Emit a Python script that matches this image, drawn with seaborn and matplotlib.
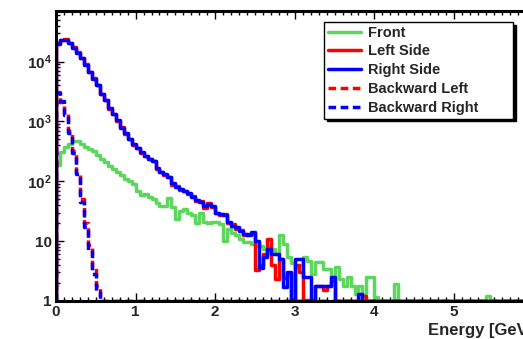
import numpy as np
import matplotlib
matplotlib.use("Agg")
import matplotlib.pyplot as plt
import seaborn as sns
from matplotlib.ticker import FixedLocator, FixedFormatter, MultipleLocator, LogLocator, NullFormatter

# Energy histograms, 0.05 GeV bins from 0 to 6 GeV
bin_width = 0.05
n_bins = 120

front = [190, 305, 370, 415, 465, 465, 415, 370, 340, 315,
         280, 233, 207, 178, 158, 141, 125, 108, 100, 89,
         68, 58, 61, 54, 50, 43, 38, 38, 52, 37,
         23, 32, 34, 29, 27, 20, 30, 21, 20, 21,
         21, 19, 10, 16, 13.6, 12.6, 10.8, 9.6, 9.6, 9,
         8.3, 8.3, 7.4, 7.9, 7.4, 6, 12.6, 9, 5.4, 4.3,
         3.7, 4, 5.4, 4.6, 2.8, 4.5, 4.5, 3.4, 3.4, 2.5,
         3.7, 2.3, 1.8, 2.5, 1.8, 1.3, 1.8, 1.3, 2.5, 2.5,
         1.15, 0, 0, 0, 0, 1.9, 0, 0, 0, 0,
         0, 0, 0, 0, 0, 0, 0, 0, 0, 0,
         0, 0, 0, 0, 0, 0, 0, 0, 1.2]

left_side = [20500, 23000, 23600, 20400, 17300, 14300, 11400, 9100, 6700, 5300,
             4100, 2850, 2300, 1620, 1340, 1020, 810, 615, 510, 405,
             365, 300, 265, 235, 220, 160, 145, 128, 120, 88,
             82, 72, 70, 61, 56, 46, 47, 36, 43, 37,
             30, 27, 28, 20, 19, 16, 15.5, 12.5, 13, 13,
             3.3, 4, 6, 11, 4, 2.3, 5, 2.4, 2.8, 1.05,
             4, 3, 1.05, 1.05, 0, 1.8, 1.8, 1.5, 1.8, 2.2,
             0, 0, 0, 0, 0, 0, 0, 1.2]

right_side = [20000, 23300, 23300, 20700, 17100, 14100, 11600, 8900, 6800, 5200,
              4000, 2900, 2240, 1650, 1310, 1040, 790, 630, 500, 415,
              355, 305, 260, 240, 215, 164, 141, 131, 117, 93,
              79, 74, 68, 63, 54, 48, 45, 38, 41, 38,
              29, 28, 27, 21, 18, 17, 15, 13, 12.6, 14,
              10, 3.5, 5.5, 7.4, 6, 6, 5, 1.7, 3, 1.05,
              5, 5, 2.5, 2.5, 1.05, 1.8, 1.8, 1.8, 1.8, 2.5,
              0, 0, 0, 0, 0, 0, 1.3]

backward_left = [3100, 2150, 1350, 680, 320, 140, 50, 20, 8.5, 3.5, 1.8]
backward_right = [3000, 2200, 1300, 650, 300, 130, 45, 17, 7, 2.8, 1.4]

series_names = ["Front", "Left Side", "Right Side", "Backward Left", "Backward Right"]
series_values = [front, left_side, right_side, backward_left, backward_right]
series_colors = ["#5cd65c", "#ff0000", "#0000ff", "#ff0000", "#0000ff"]
series_dashed = [False, False, False, True, True]

x_ticks = [0, 1, 2, 3, 4, 5]
y_ticks = [1, 10, 100, 1000, 10000]
y_tick_labels = ["1", "10", r"$\mathbf{10^{2}}$", r"$\mathbf{10^{3}}$", r"$\mathbf{10^{4}}$"]
x_title = "Energy [GeV]"

x_max = 6.0
y_min, y_max = 1.0, 7.0e4

sns.set_style("ticks")
plt.rcParams["font.family"] = ["Liberation Sans", "DejaVu Sans"]
plt.rcParams["font.weight"] = "bold"
plt.rcParams["mathtext.fontset"] = "custom"
plt.rcParams["mathtext.rm"] = "Liberation Sans:bold"
plt.rcParams["mathtext.bf"] = "Liberation Sans:bold"
plt.rcParams["mathtext.it"] = "Liberation Sans:bold"

fig = plt.figure(figsize=(5.23, 3.39), dpi=100)
ax = fig.add_axes([0.1071, 0.1121, 0.9132, 0.8555])

edges = np.arange(n_bins + 1) * bin_width


def step_outline(values):
    """Histogram outline: rise from the frame floor at the first edge, then steps."""
    v = np.zeros(n_bins)
    v[:len(values)] = values
    v = np.clip(v, y_min, None)  # empty bins sit on the frame floor (log scale)
    xs = np.concatenate([[edges[0]], edges])
    ys = np.concatenate([[y_min], v, [v[-1]]])
    return xs, ys


for name, vals, col, dashed in zip(series_names, series_values, series_colors, series_dashed):
    xs, ys = step_outline(vals)
    sns.lineplot(x=xs, y=ys, ax=ax, estimator=None, sort=False,
                 drawstyle="steps-post", color=col, linewidth=2.5,
                 linestyle=(0, (2.2, 1.3)) if dashed else "-",
                 label=name)

ax.set_yscale("log")
ax.set_xlim(0, x_max)
ax.set_ylim(y_min, y_max)

ax.xaxis.set_major_locator(FixedLocator(x_ticks))
ax.xaxis.set_minor_locator(MultipleLocator(0.1))
ax.yaxis.set_major_locator(FixedLocator(y_ticks))
ax.yaxis.set_major_formatter(FixedFormatter(y_tick_labels))
ax.yaxis.set_minor_locator(LogLocator(base=10, subs=np.arange(2, 10)))
ax.yaxis.set_minor_formatter(NullFormatter())

ax.tick_params(which="both", direction="in", top=True, right=True, width=1.0, color="black")
ax.tick_params(which="major", length=6, labelsize=11, pad=3)
ax.tick_params(which="minor", length=3)
for lab in ax.get_xticklabels() + ax.get_yticklabels():
    lab.set_fontweight("bold")

for sp in ax.spines.values():
    sp.set_linewidth(2.2)
    sp.set_color("black")

ax.set_ylabel("")
ax.set_xlabel(x_title, loc="right", fontsize=12, fontweight="bold", labelpad=3)

leg = ax.legend(loc="upper left", bbox_to_anchor=(0.561, 0.624, 0.396, 0.338),
                mode="expand", fontsize=10.5, frameon=True, fancybox=False,
                shadow={"color": "black", "alpha": 1.0},
                handlelength=2.3, handletextpad=0.45, labelspacing=0.33,
                borderpad=0.25, borderaxespad=0)
leg.get_frame().set_edgecolor("black")
leg.get_frame().set_linewidth(1.0)
leg.get_frame().set_alpha(1.0)
for t in leg.get_texts():
    t.set_fontweight("bold")

fig.savefig("out.png", dpi=100)
